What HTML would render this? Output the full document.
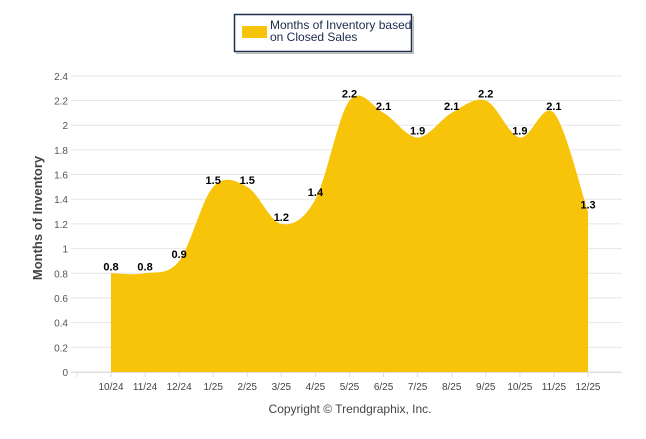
<!DOCTYPE html>
<html><head><meta charset="utf-8"><style>
body{margin:0;background:#fff;font-family:"Liberation Sans",sans-serif;}
</style></head><body>
<svg width="646" height="434" xmlns="http://www.w3.org/2000/svg" id="c" font-family="Liberation Sans, sans-serif">
<g>
<rect x="234.5" y="14.5" width="177" height="37" fill="#fff" stroke="#1f2f4f" stroke-width="1.5"/>
<rect x="412" y="16" width="2" height="37" fill="#bbb"/>
<rect x="236" y="52" width="178" height="2" fill="#bbb"/>
<rect x="242" y="26" width="25" height="12" fill="#f8c40a"/>
<text x="270" y="29" font-size="12" fill="#1a2a4a">Months of Inventory based</text>
<text x="270" y="41" font-size="12" fill="#1a2a4a">on Closed Sales</text>
</g>
<g id="grid"></g>
<path id="area" fill="#f8c40a"/>
<g id="labels"></g>
<text transform="translate(42,218) rotate(-90)" text-anchor="middle" font-size="13" font-weight="bold" fill="#444">Months of Inventory</text>
<text x="350" y="413" text-anchor="middle" font-size="12" fill="#444">Copyright © Trendgraphix, Inc.</text>
</svg>
<script>
const categories=["10/24","11/24","12/24","1/25","2/25","3/25","4/25","5/25","6/25","7/25","8/25","9/25","10/25","11/25","12/25"];
const values=[0.8,0.8,0.9,1.5,1.5,1.2,1.4,2.2,2.1,1.9,2.1,2.2,1.9,2.1,1.3];
const yTicks=[0,0.2,0.4,0.6,0.8,1,1.2,1.4,1.6,1.8,2,2.2,2.4];
const NS="http://www.w3.org/2000/svg";
const X=i=>111+i*34.07;
const Y=v=>372-v*123.4;
function mk(t,a,p){const e=document.createElementNS(NS,t);for(const k in a)e.setAttribute(k,a[k]);p.appendChild(e);return e;}
const grid=document.getElementById('grid');
yTicks.forEach(v=>{
 const l=mk('line',{x1:71,x2:622,y1:Y(v),y2:Y(v),stroke:'#e6e6e6'},grid);
 
 
 const t=mk('text',{x:68,y:Y(v)+4,'text-anchor':'end','font-size':'10',fill:'#555'},grid);
 t.textContent=v;
 
 
});
mk('line',{x1:71,x2:622,y1:372.5,y2:372.5,stroke:'#ddd'},grid);
mk('line',{x1:77,x2:77,y1:372,y2:377,stroke:'#ddd'},grid);
categories.forEach((c,i)=>{
 mk('line',{x1:X(i),x2:X(i),y1:372,y2:377,stroke:'#ddd'},grid);
 const t=mk('text',{x:X(i),y:390,'text-anchor':'middle','font-size':'10',fill:'#444'},grid);
 t.textContent=c;
 
 
});
// Catmull-Rom spline (overshooting like the reference)
const pts=values.map((v,i)=>[X(i),Y(v)]);
let d=`M${pts[0][0]},${Y(0)} L${pts[0][0]},${pts[0][1]}`;
const k=1/6;
for(let i=1;i<pts.length;i++){
 const p0=pts[i-2]||pts[i-1],p1=pts[i-1],p2=pts[i],p3=pts[i+1]||pts[i];
 const c1=[p1[0]+(p2[0]-p0[0])*k,p1[1]+(p2[1]-p0[1])*k];
 const c2=[p2[0]-(p3[0]-p1[0])*k,p2[1]-(p3[1]-p1[1])*k];
 d+=` C${c1[0]},${c1[1]} ${c2[0]},${c2[1]} ${p2[0]},${p2[1]}`;
}
d+=` L${pts[pts.length-1][0]},${Y(0)} Z`;
document.getElementById('area').setAttribute('d',d);
const lg=document.getElementById('labels');
values.forEach((v,i)=>{
 const t=mk('text',{x:X(i),y:Y(v)-3,'text-anchor':'middle','font-size':'11','font-weight':'bold',fill:'#000'},lg);
 t.textContent=v.toFixed(1);
 
 
});
</script>
</body></html>
